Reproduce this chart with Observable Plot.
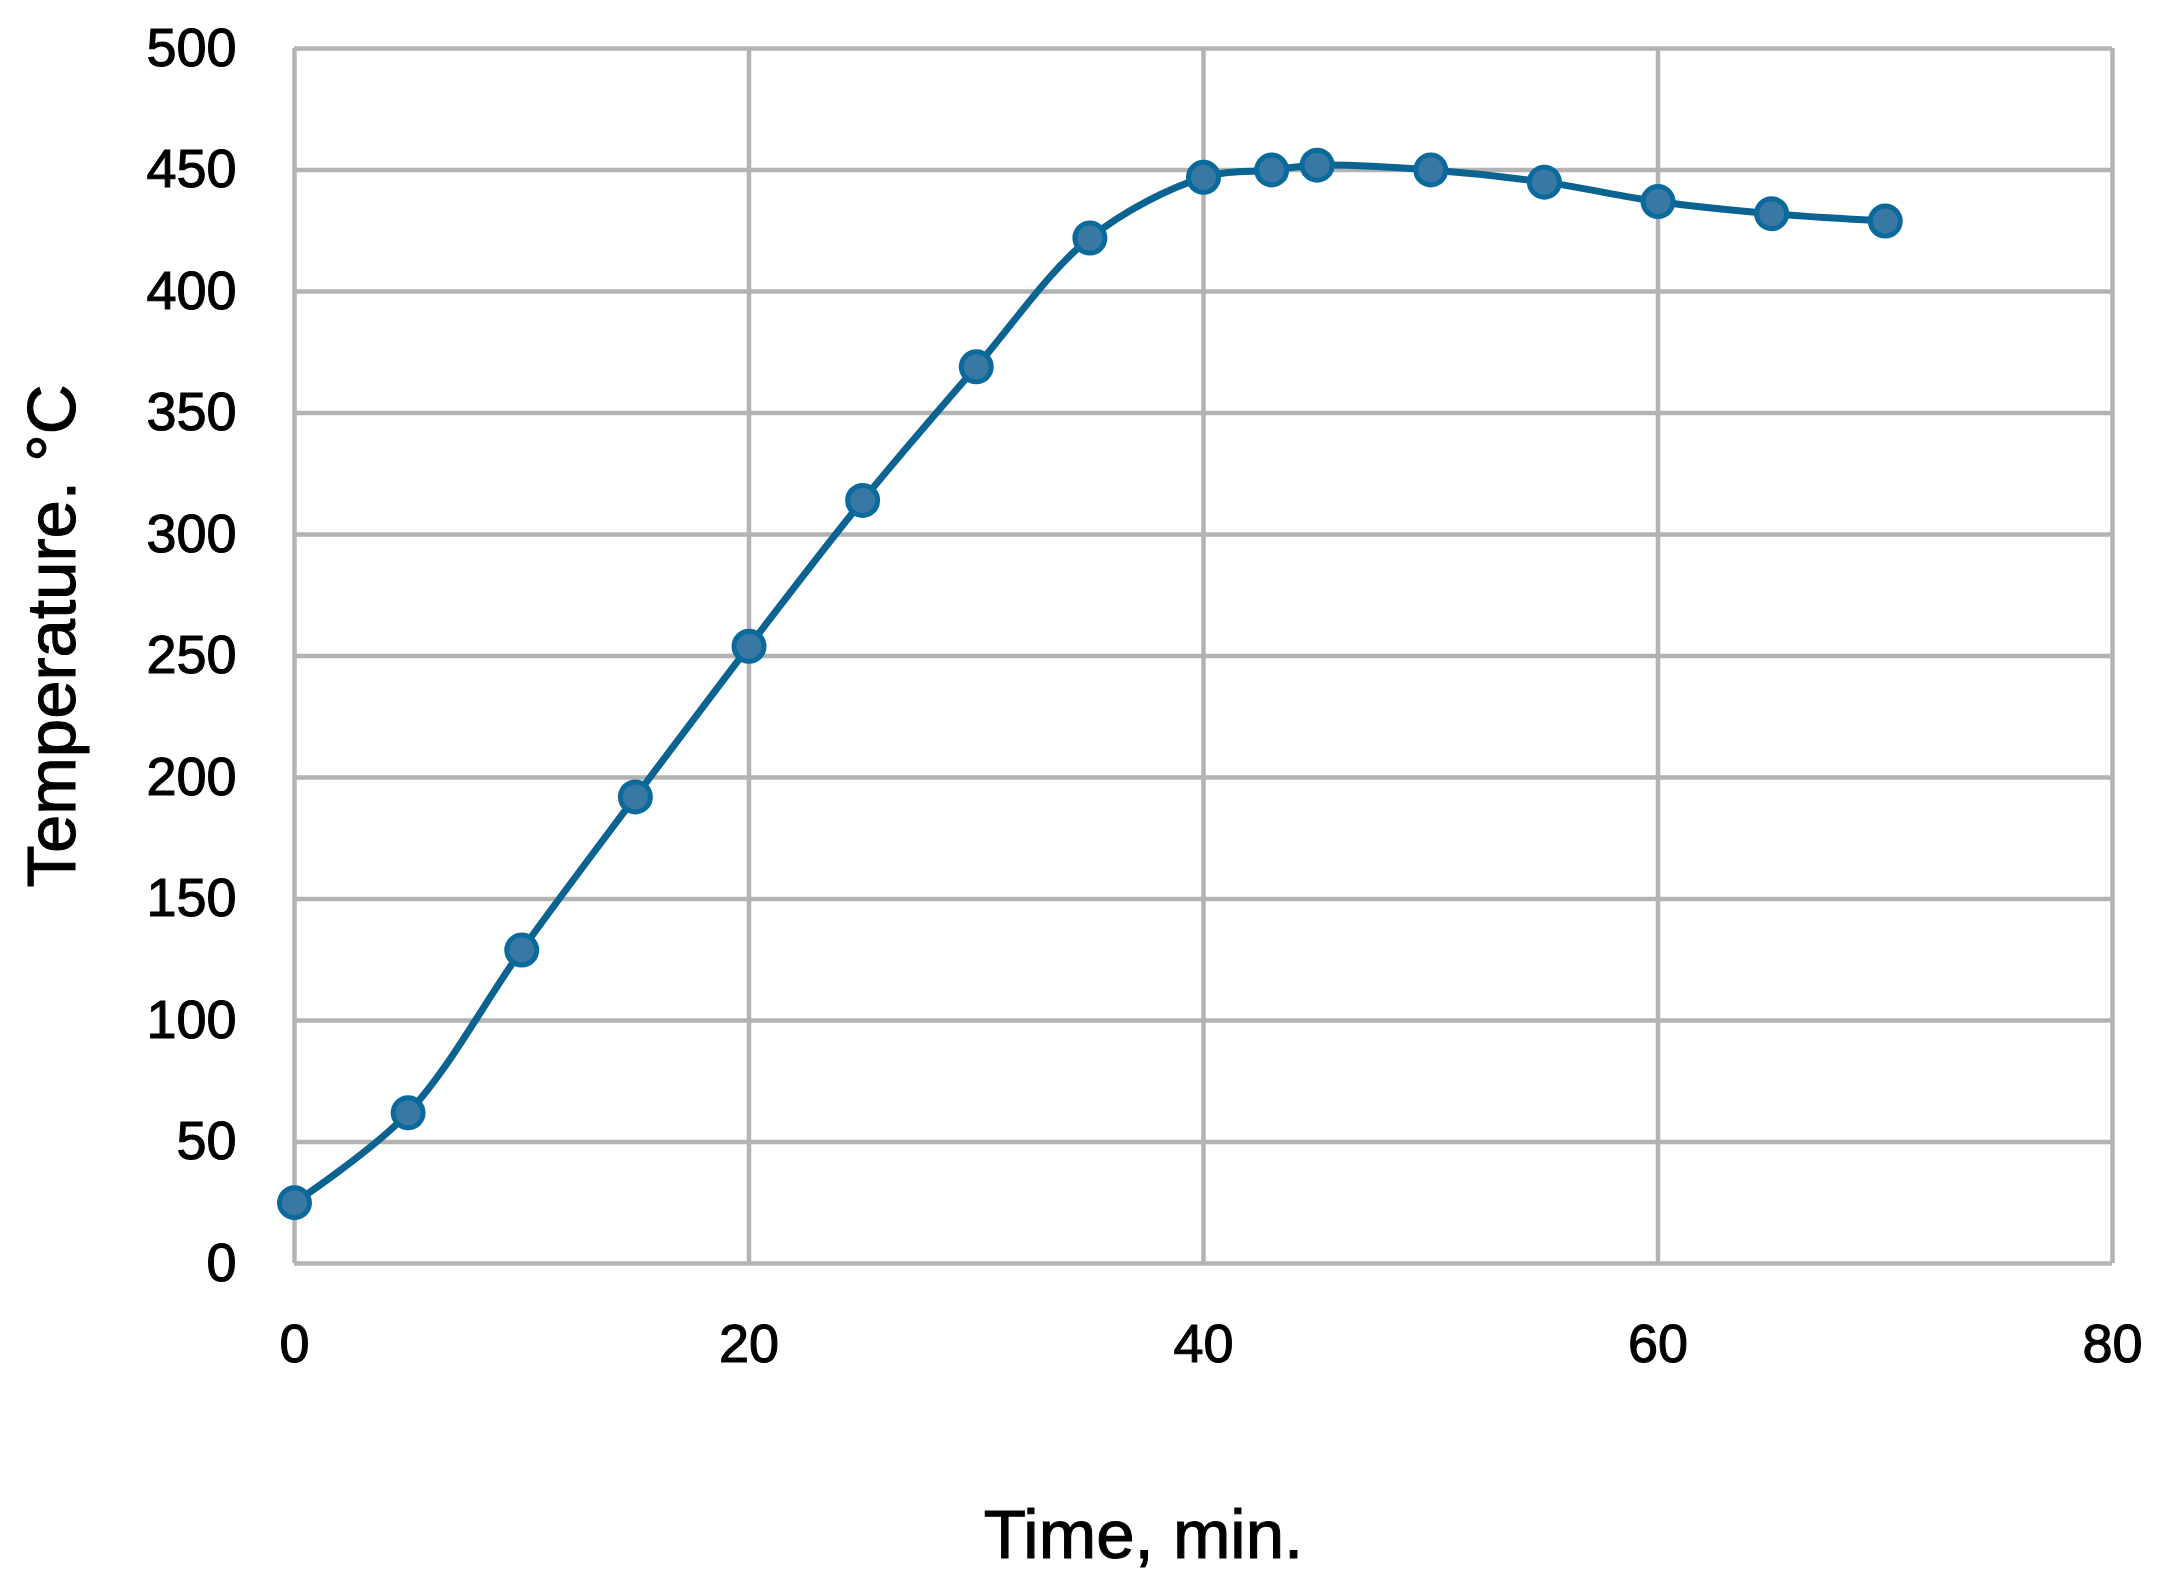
<!DOCTYPE html>
<html>
<head>
<meta charset="utf-8">
<script src="https://cdn.jsdelivr.net/npm/d3@7"></script>
<script src="https://cdn.jsdelivr.net/npm/@observablehq/plot@0.6"></script>
<style>
  html, body { margin: 0; padding: 0; background: #ffffff; }
  #chart { width: 2164px; height: 1586px; }
  #chart svg text { stroke: #000; stroke-width: 1.1px; paint-order: stroke; }
</style>
</head>
<body>
<div id="chart"></div>
<script>
// Data
const timeMin = [0, 5, 10, 15, 20, 25, 30, 35, 40, 43, 45, 50, 55, 60, 65, 70];
const temperatureC = [25, 62, 129, 192, 254, 314, 369, 422, 447, 450, 452, 450, 445, 437, 432, 429];
const xTicks = [0, 20, 40, 60, 80];
const yTicks = [0, 50, 100, 150, 200, 250, 300, 350, 400, 450, 500];
const xTitle = "Time, min.";
const yTitle = "Temperature. °C";

const data = timeMin.map((t, i) => ({time: t, temp: temperatureC[i]}));

const gridColor = "#b3b3b3";
const lineColor = "#0b6391";
const font = "'Liberation Sans', Arial, sans-serif";

const chart = Plot.plot({
  width: 2164,
  height: 1586,
  marginLeft: 294,
  marginRight: 52,
  marginTop: 48,
  marginBottom: 323,
  style: {fontFamily: font, background: "#ffffff", color: "#000"},
  x: {domain: [0, 80]},
  y: {domain: [0, 500]},
  marks: [
    Plot.gridX(xTicks, {stroke: gridColor, strokeOpacity: 1, strokeWidth: 4.5}),
    Plot.gridY(yTicks, {stroke: gridColor, strokeOpacity: 1, strokeWidth: 4.5}),
    Plot.axisX(xTicks, {tickSize: 0, tickPadding: 60, fontSize: 54, label: null, tickFormat: d => String(d)}),
    Plot.axisY(yTicks, {tickSize: 0, tickPadding: 58, fontSize: 54, label: null, tickFormat: d => String(d)}),
    Plot.text([xTitle], {frameAnchor: "bottom", dy: 272, dx: -60, fontSize: 69, fill: "#000", lineAnchor: "middle", textAnchor: "middle"}),
    Plot.text([yTitle], {frameAnchor: "left", dx: -242, dy: -20, rotate: -90, fontSize: 69, fill: "#000", lineAnchor: "middle", textAnchor: "middle"}),
    Plot.line(data, {x: "time", y: "temp", curve: "catmull-rom", stroke: lineColor, strokeWidth: 7}),
    Plot.dot(data, {x: "time", y: "temp", r: 15, fill: "#3a78a4", stroke: "#0a6a9c", strokeWidth: 5})
  ]
});

document.getElementById("chart").appendChild(chart);
</script>
</body>
</html>
